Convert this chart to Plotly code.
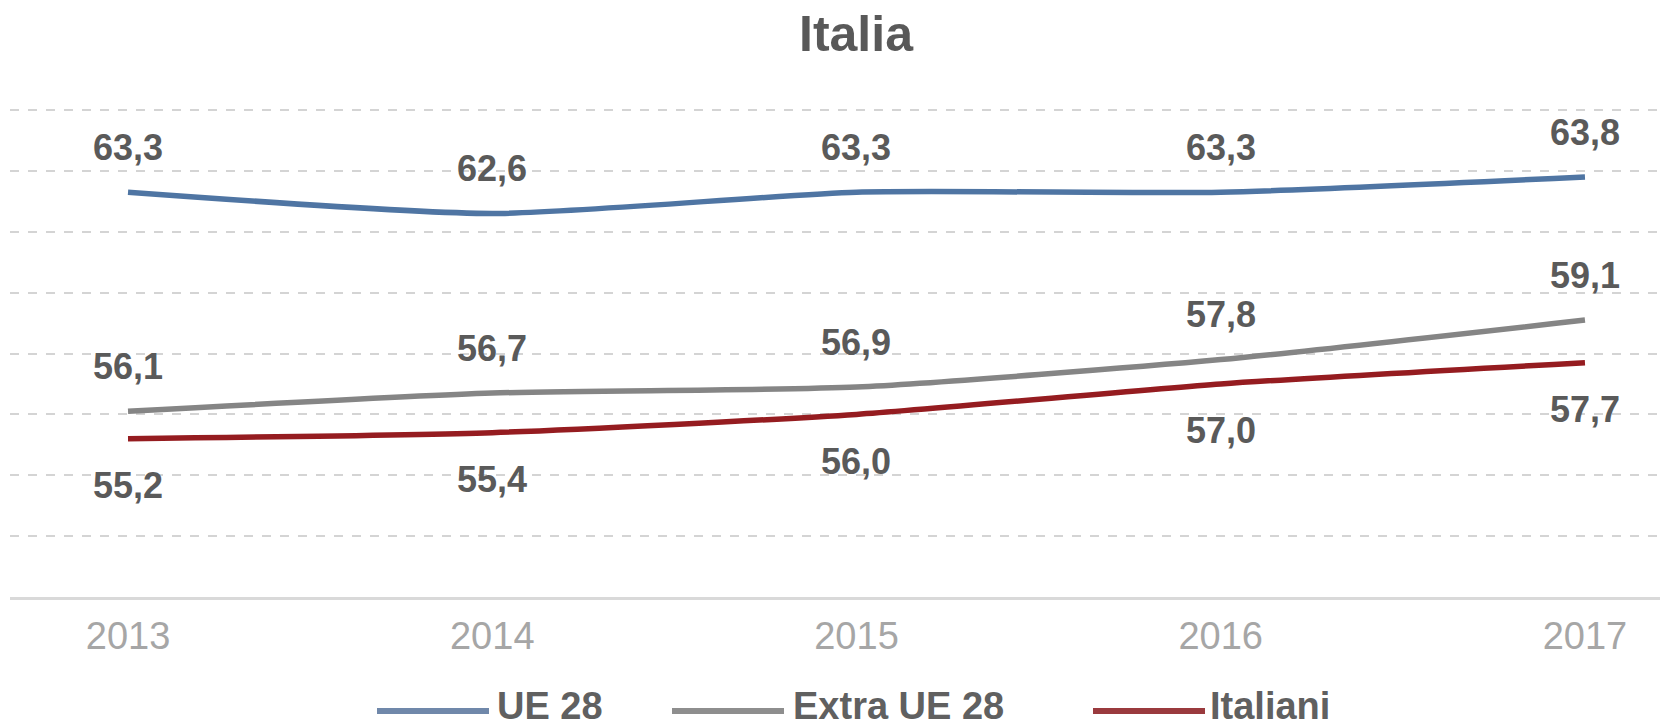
import plotly.graph_objects as go

# Employment rate series (percent) by citizenship, Italy
years = ["2013", "2014", "2015", "2016", "2017"]
ue28 = [63.3, 62.6, 63.3, 63.3, 63.8]
extra_ue28 = [56.1, 56.7, 56.9, 57.8, 59.1]
italiani = [55.2, 55.4, 56.0, 57.0, 57.7]

series_names = ["UE 28", "Extra UE 28", "Italiani"]
series_values = [ue28, extra_ue28, italiani]
series_colors = ["#4f75a3", "#858585", "#951c20"]
legend_colors = ["#7088aa", "#8e8e8e", "#9a3a3e"]
label_shift = [45, 45, -47]  # px offset of the value labels (above / below)

W, H = 1665, 726
L, R, T, B = 10, 5, 107, 129
FONT = "Liberation Sans, Arial, sans-serif"


def fmt(v):
    return f"{v:.1f}".replace(".", ",")


fig = go.Figure()
annotations = []
for name, vals, col, dy in zip(series_names, series_values, series_colors, label_shift):
    fig.add_trace(go.Scatter(
        x=list(range(len(years))), y=vals, mode="lines", name=name,
        line=dict(color=col, width=5.5, shape="spline", smoothing=0.6),
        showlegend=False, hoverinfo="skip",
    ))
    for i, v in enumerate(vals):
        annotations.append(dict(
            x=i, y=v, xref="x", yref="y", text=f"<b>{fmt(v)}</b>", showarrow=False,
            yshift=dy, font=dict(family=FONT, size=36, color="#5a5a5a"),
        ))

# Legend drawn as line samples with labels underneath the plot
plot_w = W - L - R
plot_h = H - T - B


def px_x(px):
    return (px - L) / plot_w


def px_y(py):
    return (H - B - py) / plot_h


legend_items = [(377, 489, 495), (672, 784, 791), (1093, 1205, 1208)]
shapes = []
for (x0, x1, tx), name, col in zip(legend_items, series_names, legend_colors):
    shapes.append(dict(type="line", xref="paper", yref="paper",
                       x0=px_x(x0), x1=px_x(x1), y0=px_y(711), y1=px_y(711),
                       line=dict(color=col, width=6)))
    annotations.append(dict(x=px_x(tx), y=px_y(706), xref="paper", yref="paper",
                            xanchor="left", yanchor="middle", text=f"<b>{name}</b>",
                            showarrow=False,
                            font=dict(family=FONT, size=38, color="#606060")))

fig.update_layout(
    width=W, height=H,
    margin=dict(l=L, r=R, t=T, b=B),
    paper_bgcolor="white", plot_bgcolor="white",
    title=dict(text="<b>Italia</b>", x=856 / W, xanchor="center",
               y=1 - 33 / H, yanchor="middle",
               font=dict(family=FONT, size=50, color="#595959")),
    annotations=annotations,
    shapes=shapes,
    showlegend=False,
)
fig.update_layout(title_xref="container", title_yref="container")

fig.update_xaxes(
    range=[-0.324, 4.206],
    tickvals=list(range(len(years))), ticktext=years,
    showgrid=False, zeroline=False,
    showline=True, linecolor="#d9d9d9", linewidth=3,
    ticks="", ticklabelstandoff=3,
    tickfont=dict(family=FONT, size=38, color="#a6a6a6"),
)
fig.update_yaxes(
    range=[50, 66.1], dtick=2, showticklabels=False,
    showgrid=True, gridcolor="#d4d4d4", gridwidth=2, griddash="dash",
    zeroline=False, showline=False,
)

fig.write_html("out.html")
